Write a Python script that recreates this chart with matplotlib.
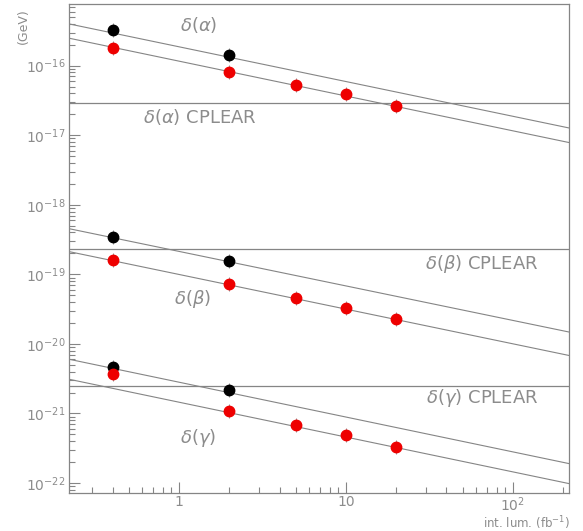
import matplotlib
matplotlib.use("Agg")
import matplotlib.pyplot as plt
from matplotlib.ticker import LogLocator, NullFormatter

plt.rcParams['mathtext.fontset'] = 'dejavusans'

#%% data
lum_black = [0.4, 2]
lum_red = [0.4, 2, 5, 10, 20]

alpha_black = [3.26e-16, 1.44e-16]
alpha_red = [1.78e-16, 8.2e-17, 5.22e-17, 3.89e-17, 2.61e-17]
beta_black = [3.48e-19, 1.56e-19]
beta_red = [1.61e-19, 7.26e-20, 4.57e-20, 3.25e-20, 2.30e-20]
gamma_black = [4.61e-21, 2.17e-21]
gamma_red = [3.66e-21, 1.07e-21, 6.76e-22, 4.85e-22, 3.26e-22]

# fitted lines, values at the two ends of the x range
fit_x = [0.22, 218]
alpha_fit_black = [3.98e-16, 1.27e-17]
alpha_fit_red = [2.48e-16, 7.84e-18]
beta_fit_black = [4.53e-19, 1.48e-20]
beta_fit_red = [2.12e-19, 6.81e-21]
gamma_fit_black = [6.01e-21, 1.90e-22]
gamma_fit_red = [3.10e-21, 9.8e-23]

# CPLEAR limits
cplear = {'alpha': 2.88e-17, 'beta': 2.29e-19, 'gamma': 2.48e-21}

xtick_vals = [1, 10, 100]
xtick_labels = ['1', '10', '$10^{2}$']
ytick_vals = [1e-22, 1e-21, 1e-20, 1e-19, 1e-18, 1e-17, 1e-16]

#%% plot
grey = '#858585'
lgrey = '#8c8c8c'
fig = plt.figure(figsize=(5.83, 5.31), dpi=100)
ax = fig.add_axes([0.1189, 0.0721, 0.8576, 0.9198])
ax.set_xscale('log')
ax.set_yscale('log')

for fb, fr in [(alpha_fit_black, alpha_fit_red), (beta_fit_black, beta_fit_red),
               (gamma_fit_black, gamma_fit_red)]:
    ax.plot(fit_x, fb, color=grey, lw=0.8, zorder=2)
    ax.plot(fit_x, fr, color=grey, lw=0.8, zorder=2)

for k in ['alpha', 'beta', 'gamma']:
    ax.axhline(cplear[k], color=grey, lw=0.9, zorder=2)

for yb, yr in [(alpha_black, alpha_red), (beta_black, beta_red), (gamma_black, gamma_red)]:
    ax.plot(lum_black, yb, ls='none', marker='|', ms=10, mew=0.5, color='#666666', zorder=3)
    ax.plot(lum_red, yr, ls='none', marker='|', ms=10, mew=0.5, color='#666666', zorder=3)
    ax.plot(lum_black, yb, ls='none', marker='o', ms=7.5, color='black', mec='black', zorder=4)
    ax.plot(lum_red, yr, ls='none', marker='o', ms=7.5, color='#ee0000', mec='#ee0000', zorder=4)

# text labels
tkw = dict(color=lgrey, fontsize=13, ha='center', va='center', transform=ax.transAxes)
def ax_pos(px, py):
    return ((px - 69.3) / 500.0, (492.7 - py) / 488.4)

ax.text(*ax_pos(199, 25), r'$\delta(\alpha)$', **tkw)
ax.text(*ax_pos(200, 117), r'$\delta(\alpha)$ CPLEAR', **tkw)
ax.text(*ax_pos(192, 299), r'$\delta(\beta)$', **tkw)
ax.text(*ax_pos(482, 264), r'$\delta(\beta)$ CPLEAR', **tkw)
ax.text(*ax_pos(198, 438), r'$\delta(\gamma)$', **tkw)
ax.text(*ax_pos(482, 398), r'$\delta(\gamma)$ CPLEAR', **tkw)

# axes styling
for s in ax.spines.values():
    s.set_color(grey)
    s.set_linewidth(0.9)
ax.set_yticks(ytick_vals)
ax.yaxis.set_minor_locator(LogLocator(base=10, subs=range(2, 10), numticks=20))
ax.yaxis.set_minor_formatter(NullFormatter())
ax.set_xticks(xtick_vals, xtick_labels)
ax.xaxis.set_minor_locator(LogLocator(base=10, subs=range(2, 10), numticks=20))
ax.xaxis.set_minor_formatter(NullFormatter())
ax.tick_params(which='both', direction='in', colors=grey, labelcolor=lgrey,
               top=False, right=False, labelsize=10)
ax.tick_params(which='major', length=8, width=0.8)
ax.tick_params(which='minor', length=4, width=0.8)
ax.tick_params(axis='x', pad=2)
ax.tick_params(axis='y', pad=3)
ax.set_xlim(0.22, 218)
ax.set_ylim(7.26e-23, 7.63e-16)

fig.text(0.977, 0.014, 'int. lum. (fb$^{-1}$)', color=lgrey, fontsize=8.5, ha='right', va='center')
fig.text(0.04, 0.985, '(GeV)', color=lgrey, fontsize=9, rotation=90, ha='center', va='top')

fig.savefig('out.png', dpi=100)
